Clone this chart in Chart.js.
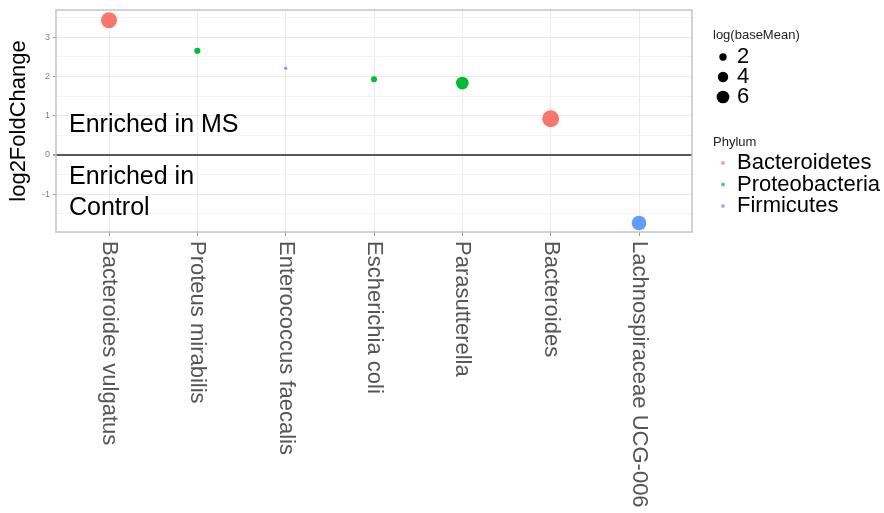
<!DOCTYPE html>
<html lang="en">
<head>
  <meta charset="UTF-8" />
  <title>log2FoldChange by taxon</title>
  <script src="https://cdn.jsdelivr.net/npm/chart.js"></script>
  <style>
    body { margin: 0; background: #fff; }
    #wrap { width: 884px; height: 513px; position: relative; }
  </style>
</head>
<body>
  <div id="wrap"><canvas id="grafico"></canvas></div>

  <script>
    // data
    const taxa = ['Bacteroides vulgatus', 'Proteus mirabilis', 'Enterococcus faecalis',
      'Escherichia coli', 'Parasutterella', 'Bacteroides', 'Lachnospiraceae UCG-006'];
    const log2FoldChange = [3.43, 2.65, 2.21, 1.93, 1.83, 0.92, -1.73];
    const logBaseMean = [9.5, 1.4, 0.35, 1.3, 5.9, 10.6, 7.9];
    const phylum = ['Bacteroidetes', 'Proteobacteria', 'Firmicutes', 'Proteobacteria',
      'Proteobacteria', 'Bacteroidetes', 'Firmicutes'];
    const phylumNames = ['Bacteroidetes', 'Proteobacteria', 'Firmicutes'];
    const phylumColors = ['#F8766D', '#00BA38', '#619CFF'];
    const sizeBreaks = [2, 4, 6];
    const yTicks = [-1.5, -1, -0.5, 0, 0.5, 1, 1.5, 2, 2.5, 3, 3.5];

    const colorOf = p => phylumColors[phylumNames.indexOf(p)];
    const radiusOf = v => 2.6 * Math.sqrt(v);

    const font = '"Liberation Sans", Arial, sans-serif';

    const adornos = {
      id: 'adornos',
      afterDraw(chart) {
        const { ctx, chartArea: a, scales: { x, y } } = chart;
        ctx.save();
        // panel border
        ctx.strokeStyle = '#c4c4c4';
        ctx.lineWidth = 1.5;
        ctx.strokeRect(a.left, a.top, a.right - a.left, a.bottom - a.top);

        // rotated category labels
        ctx.fillStyle = '#555';
        ctx.font = '22px ' + font;
        ctx.textAlign = 'left';
        ctx.textBaseline = 'middle';
        taxa.forEach((t, i) => {
          ctx.save();
          ctx.translate(x.getPixelForValue(i), a.bottom + 9);
          ctx.rotate(Math.PI / 2);
          ctx.fillText(t, 0, 0);
          ctx.restore();
        });

        // annotations
        ctx.fillStyle = '#000';
        ctx.font = '25px ' + font;
        ctx.fillText('Enriched in MS', a.left + 13, y.getPixelForValue(0.75));
        ctx.fillText('Enriched in', a.left + 13, y.getPixelForValue(-0.56));
        ctx.fillText('Control', a.left + 13, y.getPixelForValue(-1.35));

        // legends
        const lx = a.right + 21;
        ctx.fillStyle = '#222';
        ctx.font = '13px ' + font;
        ctx.fillText('log(baseMean)', lx, 35);
        sizeBreaks.forEach((b, i) => {
          const cy = 57 + i * 20;
          ctx.fillStyle = '#000';
          ctx.beginPath();
          ctx.arc(lx + 10, cy, radiusOf(b), 0, Math.PI * 2);
          ctx.fill();
          ctx.font = '22px ' + font;
          ctx.fillText(String(b), lx + 24, cy);
        });
        ctx.fillStyle = '#222';
        ctx.font = '13px ' + font;
        ctx.fillText('Phylum', lx, 142);
        phylumNames.forEach((p, i) => {
          const cy = 163 + i * 21.5;
          ctx.fillStyle = phylumColors[i];
          ctx.globalAlpha = 0.7;
          ctx.beginPath();
          ctx.arc(lx + 10, cy, 2, 0, Math.PI * 2);
          ctx.fill();
          ctx.globalAlpha = 1;
          ctx.fillStyle = '#000';
          ctx.font = '22px ' + font;
          ctx.fillText(p, lx + 24, cy);
        });
        ctx.restore();
      }
    };

    new Chart(document.getElementById('grafico'), {
      type: 'scatter',
      data: {
        datasets: [{
          data: taxa.map((t, i) => ({ x: i, y: log2FoldChange[i] })),
          backgroundColor: phylum.map(colorOf),
          borderWidth: 0,
          pointRadius: logBaseMean.map(radiusOf),
          pointHoverRadius: logBaseMean.map(radiusOf)
        }]
      },
      options: {
        responsive: true,
        maintainAspectRatio: false,
        animation: false,
        layout: { padding: { top: 10, right: 192, left: 0, bottom: 0 } },
        plugins: { legend: { display: false }, tooltip: { enabled: false } },
        scales: {
          x: {
            type: 'linear',
            min: -0.6,
            max: 6.6,
            afterBuildTicks: s => { s.ticks = taxa.map((t, i) => ({ value: i })); },
            afterFit: s => { s.height = 281; },
            ticks: { display: false },
            border: { display: false },
            grid: { color: '#ebebeb', lineWidth: 1, tickLength: 4, tickColor: '#9a9a9a' }
          },
          y: {
            min: -1.96,
            max: 3.69,
            afterBuildTicks: s => { s.ticks = yTicks.map(v => ({ value: v })); },
            afterFit: s => { s.width = 56; },
            border: { display: false },
            ticks: {
              color: '#808080',
              font: { family: font, size: 9 },
              padding: 3,
              callback: v => Number.isInteger(v) ? String(v) : ''
            },
            grid: {
              color: c => c.tick.value === 0 ? '#5a5a5a' : (Number.isInteger(c.tick.value) ? '#e9e9e9' : '#f4f4f4'),
              lineWidth: c => c.tick.value === 0 ? 2 : 1,
              tickLength: 3,
              tickColor: c => Number.isInteger(c.tick.value) ? '#9a9a9a' : 'rgba(0,0,0,0)'
            },
            title: {
              display: true,
              text: 'log2FoldChange',
              color: '#000',
              font: { family: font, size: 22 },
              padding: { top: 6, bottom: 0 }
            }
          }
        }
      },
      plugins: [adornos]
    });
  </script>
</body>
</html>
